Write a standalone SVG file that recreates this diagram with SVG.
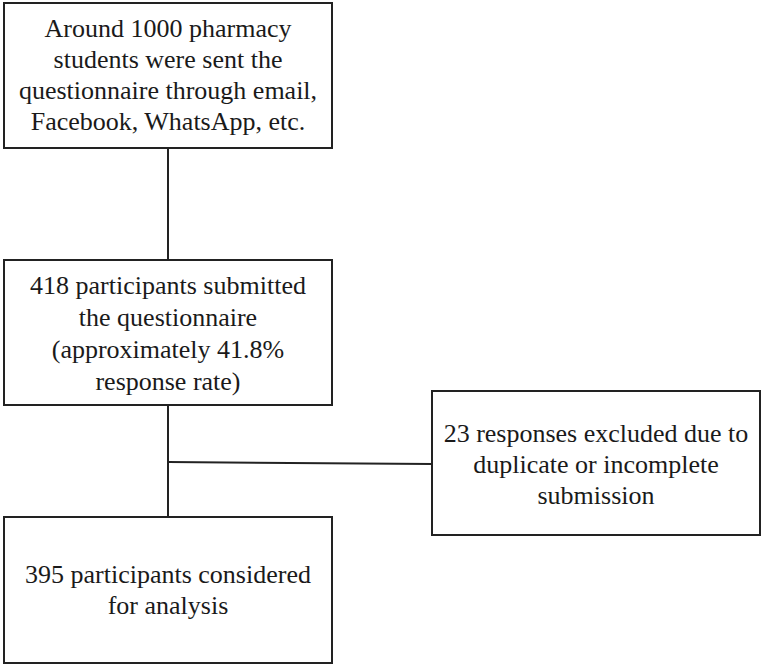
<svg xmlns="http://www.w3.org/2000/svg" width="764" height="666" viewBox="0 0 764 666">
<style>
.box{fill:#fff;stroke:#222;stroke-width:2}
.conn{fill:none;stroke:#222;stroke-width:2}
.t{font-family:'Liberation Serif','Times New Roman',serif;font-size:26px;fill:#1a1a1a;text-anchor:middle}
</style>
<rect width="764" height="666" fill="#fff"/>
<g id="connectors">
<line class="conn" x1="168" y1="148" x2="168" y2="260"/>
<line class="conn" x1="168" y1="405" x2="168" y2="517"/>
<line class="conn" x1="168" y1="462" x2="432" y2="464"/>
</g>
<g id="n1">
<rect class="box" x="4" y="3" width="328" height="145"/>
<text class="t" x="168" y="37">Around 1000 pharmacy</text>
<text class="t" x="168" y="68">students were sent the</text>
<text class="t" x="168" y="99">questionnaire through email,</text>
<text class="t" x="168" y="130">Facebook, WhatsApp, etc.</text>
</g>
<g id="n2">
<rect class="box" x="4" y="260" width="328" height="145"/>
<text class="t" x="168" y="294">418 participants submitted</text>
<text class="t" x="168" y="326">the questionnaire</text>
<text class="t" x="168" y="358">(approximately 41.8%</text>
<text class="t" x="168" y="390">response rate)</text>
</g>
<g id="n3">
<rect class="box" x="432" y="391" width="328" height="144"/>
<text class="t" x="596" y="442">23 responses excluded due to</text>
<text class="t" x="596" y="473">duplicate or incomplete</text>
<text class="t" x="596" y="504">submission</text>
</g>
<g id="n4">
<rect class="box" x="4" y="517" width="328" height="146"/>
<text class="t" x="168" y="583">395 participants considered</text>
<text class="t" x="168" y="614">for analysis</text>
</g>
</svg>
